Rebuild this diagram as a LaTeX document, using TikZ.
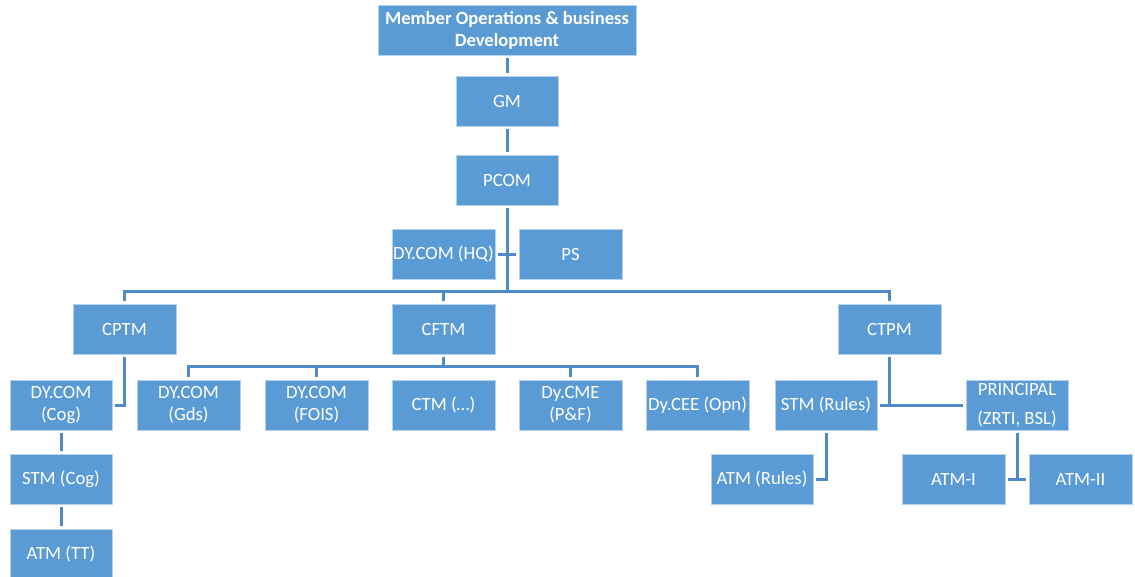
\documentclass[tikz,border=0pt]{standalone}
\usepackage{fontspec}
\setmainfont{Carlito}
\definecolor{obox}{HTML}{5B9BD5}
\definecolor{oline}{HTML}{4E8AC8}
\tikzset{
  box/.style={fill=obox, draw=white!55!obox, line width=0.8pt, text=white,
    font=\fontsize{18.7}{22}\selectfont, align=center, inner sep=0pt,
    minimum width=102pt, minimum height=50pt, outer sep=3pt},
  link/.style={draw=oline, line width=3pt}
}
\begin{document}
\begin{tikzpicture}[x=1pt, y=-1pt]
\useasboundingbox (0,0) rectangle (1135,576);
% top of the hierarchy
\node[box, minimum width=258pt, font=\bfseries\fontsize{18.6}{22}\selectfont] (top) at (507,30) {Member Operations \& business\\Development};
\node[box] (gm) at (507,101) {GM};
\node[box] (pcom) at (507,180) {PCOM};
\node[box, minimum width=103pt] (hq) at (443.5,254) {DY.COM (HQ)};
\node[box, minimum width=103pt] (ps) at (570.5,254) {PS};
% chief managers
\node[box, minimum width=103pt] (cptm) at (124.5,329) {CPTM};
\node[box, minimum width=103pt] (cftm) at (443.5,329) {CFTM};
\node[box, minimum width=103pt] (ctpm) at (889.5,329) {CTPM};
% CPTM branch
\node[box] (cog) at (61,405) {DY.COM\\(Cog)};
\node[box] (stmcog) at (61,479) {STM (Cog)};
\node[box] (atmtt) at (61,554) {ATM (TT)};
% CFTM branch
\node[box, minimum width=103pt] (gds) at (188.5,405) {DY.COM\\(Gds)};
\node[box, minimum width=103pt] (fois) at (316.5,405) {DY.COM\\(FOIS)};
\node[box, minimum width=103pt] (ctm) at (443.5,405) {CTM (…)};
\node[box, minimum width=103pt] (cme) at (570.5,405) {Dy.CME\\(P\&F)};
\node[box, minimum width=103pt] (cee) at (697.5,405) {Dy.CEE (Opn)};
% CTPM branch
\node[box] (stmr) at (826,405) {STM (Rules)};
\node[box] (princ) at (1017,405) {PRINCIPAL\\[7pt](ZRTI, BSL)};
\node[box] (atmr) at (762,479) {ATM (Rules)};
\node[box, minimum width=103pt] (atm1) at (953.5,479) {ATM-I};
\node[box, minimum width=103pt] (atm2) at (1080.5,479) {ATM-II};
% connectors
\coordinate (bus) at (507,291);
\coordinate (cbus) at (443.5,366);
\draw[link] (top) -- (gm);
\draw[link] (gm) -- (pcom);
\draw[link] (pcom.south) -- (pcom.south |- bus);
\draw[link] (hq.east) -- (ps.west);
\draw[link] (cptm.north) |- (bus) -| (ctpm.north);
\draw[link] (cftm.north) -- (cftm.north |- bus);
\draw[link] (cftm.south) -- (cbus);
\draw[link] (gds.north) |- (cbus) -| (cee.north);
\draw[link] (fois.north) -- (fois.north |- cbus);
\draw[link] (cme.north) -- (cme.north |- cbus);
\draw[link] (cptm.south) |- (cog.east);
\draw[link] (cog) -- (stmcog);
\draw[link] (stmcog) -- (atmtt);
\draw[link] (ctpm.south) -- (ctpm.south |- stmr.east);
\draw[link] (stmr.east) -- (princ.west);
\draw[link] (stmr.south) |- (atmr.east);
\draw[link] (princ.south) -- (princ.south |- atm1.east);
\draw[link] (atm1.east) -- (atm2.west);
\end{tikzpicture}
\end{document}
